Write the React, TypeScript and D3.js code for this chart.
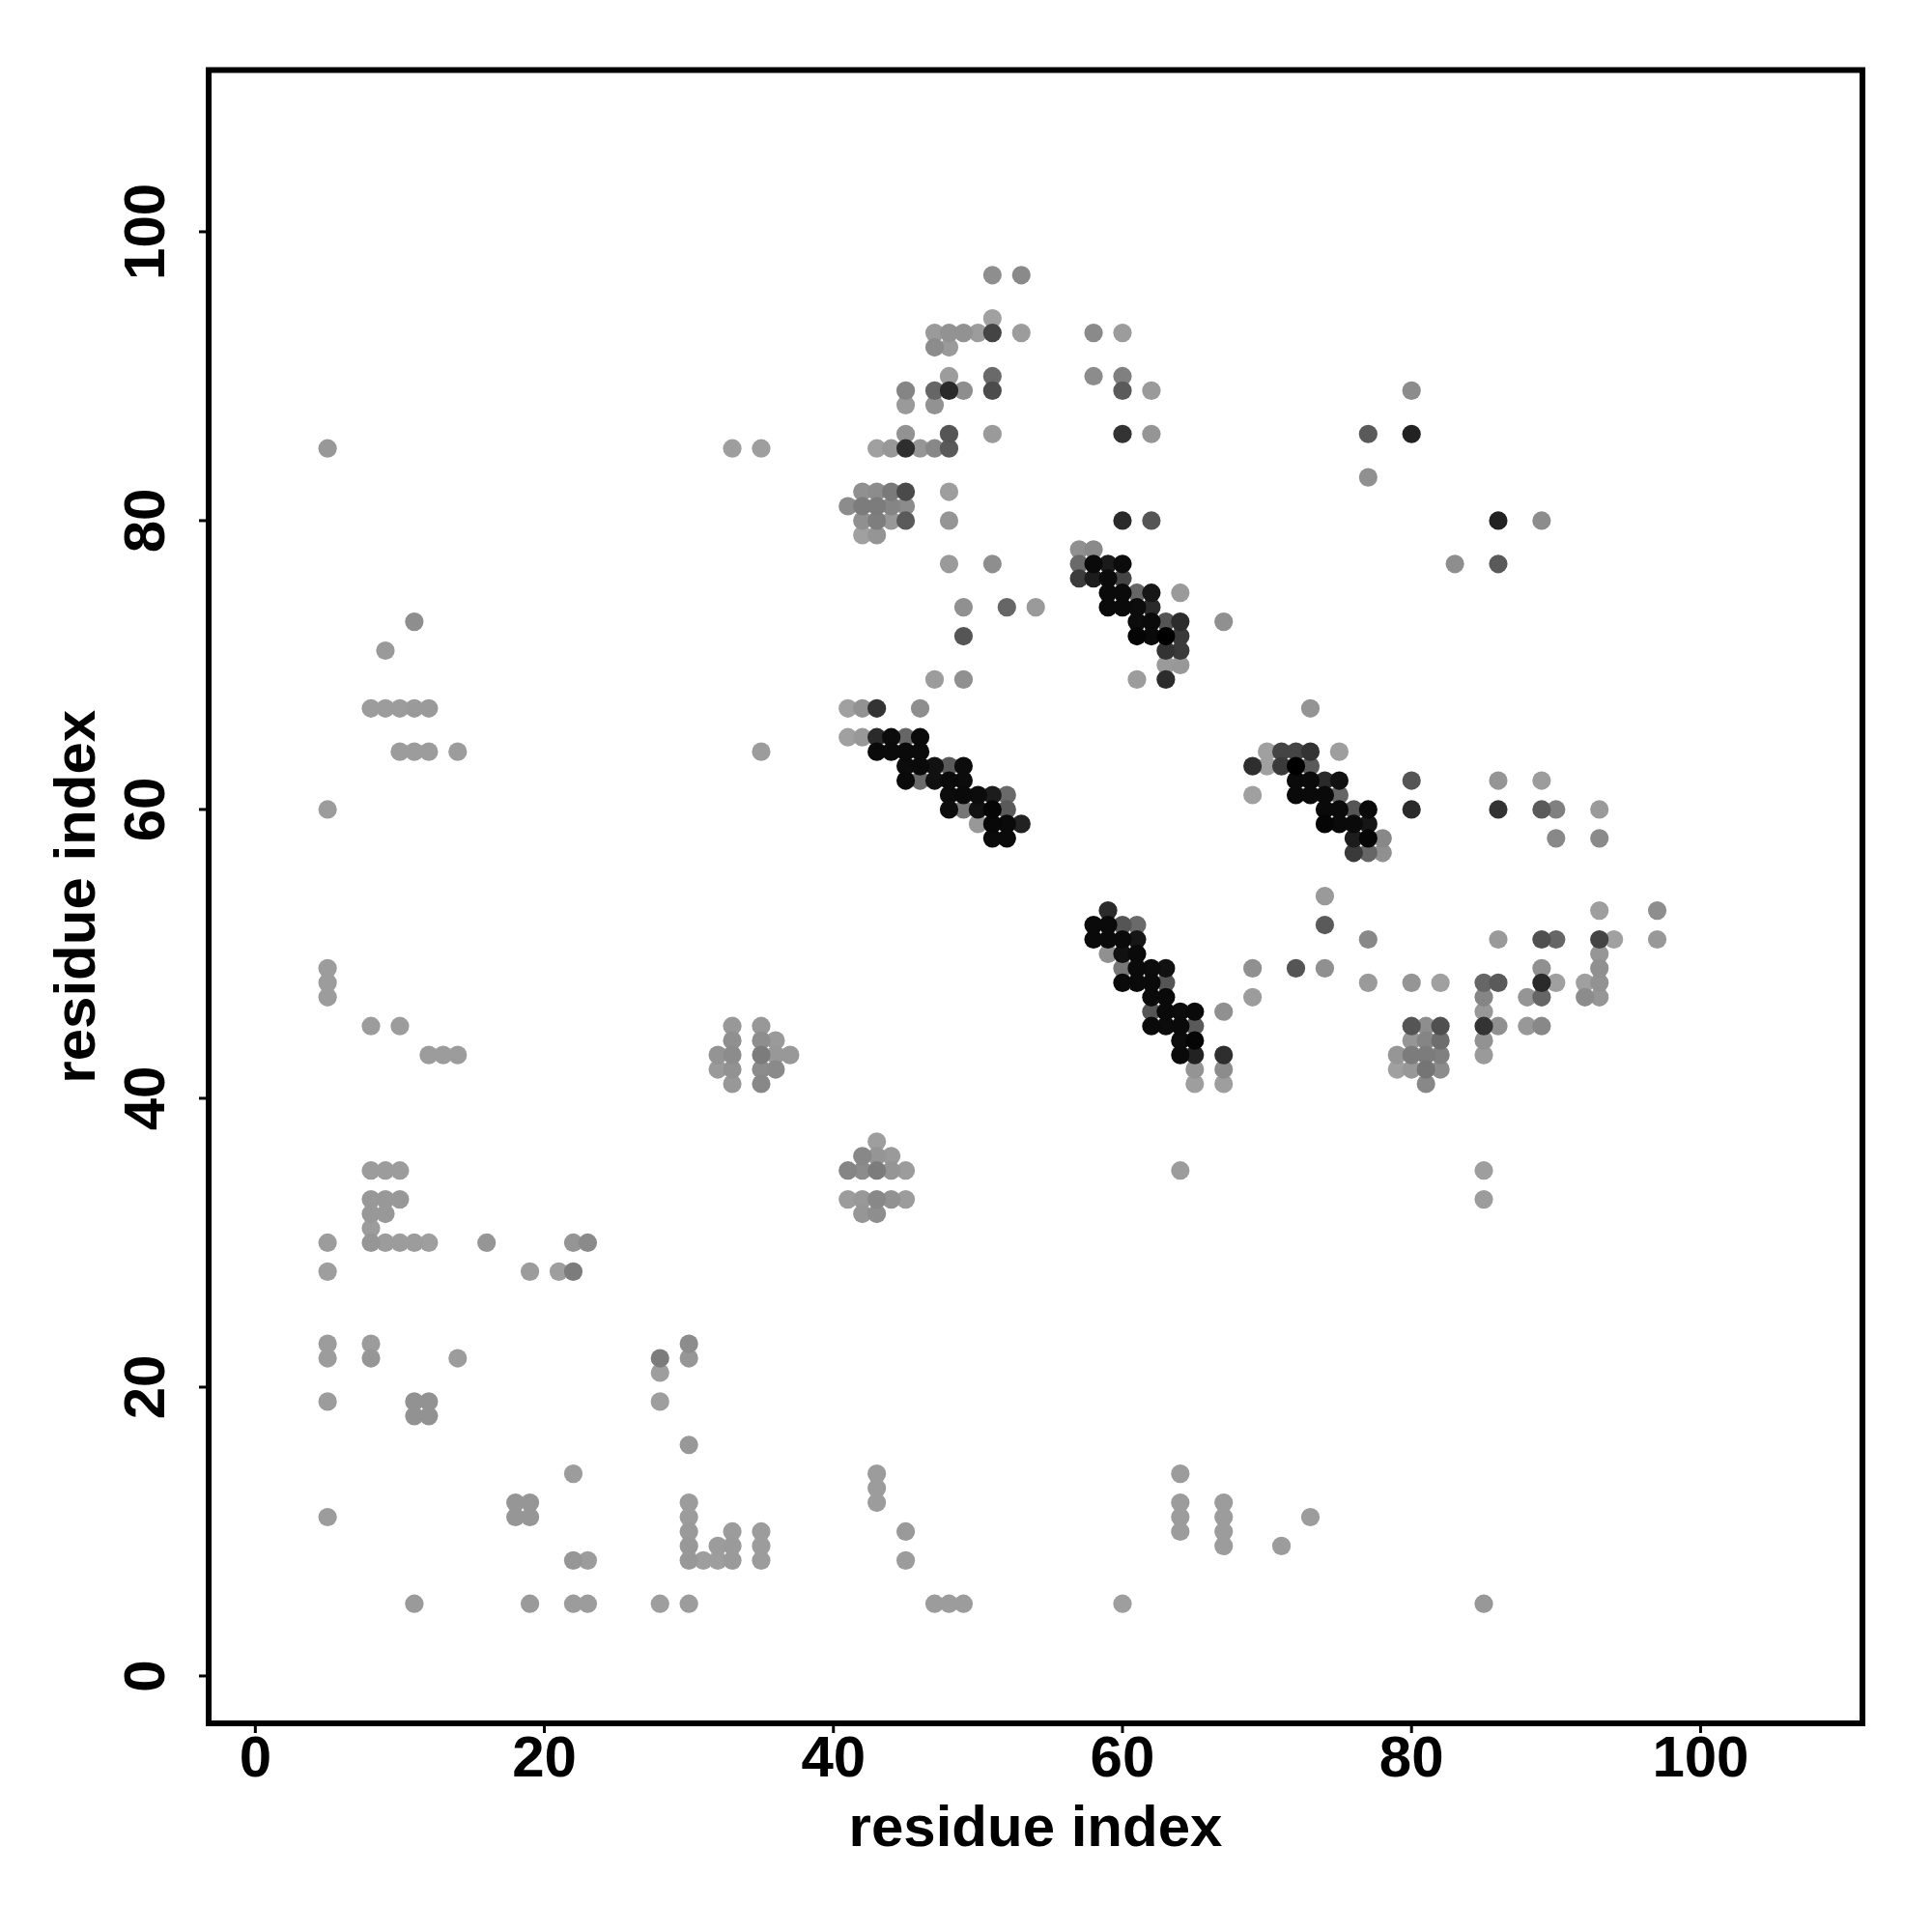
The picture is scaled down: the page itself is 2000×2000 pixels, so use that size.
import React from "react";
import * as d3 from "d3";

const xTicks = [0, 20, 40, 60, 80, 100];
const yTicks = [0, 20, 40, 60, 80, 100];
const axisTitle = "residue index";

// Each row: residue index on y, then pairs of (residue index on x, grey level).
const contactRows: number[][] = [
  [97, 51,0x8e, 53,0x8a],
  [94, 51,0xa0],
  [93, 47,0x9a, 48,0x92, 49,0x92, 50,0x9c, 51,0x44, 53,0x9c, 58,0x8a, 60,0x9c],
  [92, 47,0x8c, 48,0x9a],
  [90, 48,0x9c, 51,0x6a, 58,0x8c, 60,0x80],
  [89, 45,0x85, 47,0x66, 48,0x2a, 49,0x8e, 51,0x4c, 60,0x5a, 62,0x9a, 80,0x8c],
  [88, 45,0x9a, 47,0x92],
  [86, 45,0x92, 48,0x55, 51,0x9a, 60,0x33, 62,0x95, 77,0x5a, 80,0x22],
  [85, 5,0x98, 33,0x9e, 35,0x9e, 43,0xa0, 44,0x98, 45,0x2e, 46,0x96, 47,0x88, 48,0x5a],
  [83, 77,0x90],
  [82, 42,0x90, 43,0x8c, 44,0x7a, 45,0x4a, 48,0x9e],
  [81, 41,0x8c, 42,0x7c, 43,0x7c, 44,0x85, 45,0x8c],
  [80, 42,0x90, 43,0x7e, 44,0x98, 45,0x5a, 48,0x95, 60,0x2a, 62,0x55, 86,0x22, 89,0x8c],
  [79, 42,0xa0, 43,0x95],
  [78, 57,0x90, 58,0x8a],
  [77, 48,0x9a, 51,0x8e, 57,0x6a, 58,0x0a, 59,0x1a, 60,0x0c, 83,0x8e, 86,0x5a],
  [76, 57,0x3c, 58,0x1c, 59,0x0a, 60,0x44],
  [75, 59,0x0a, 60,0x0a, 61,0x66, 62,0x16, 64,0x9a],
  [74, 49,0x90, 52,0x66, 54,0x9a, 59,0x0a, 60,0x0a, 61,0x0c, 62,0x2a],
  [73, 11,0x8e, 61,0x0c, 62,0x0a, 63,0x55, 64,0x2c, 67,0x90],
  [72, 49,0x55, 61,0x05, 62,0x0a, 63,0x00, 64,0x3a],
  [71, 9,0x9a, 63,0x33, 64,0x3a],
  [70, 63,0x9a, 64,0x98],
  [69, 47,0x9c, 49,0x90, 61,0x9c, 63,0x2c],
  [67, 8,0x9c, 9,0x9c, 10,0x9c, 11,0x9a, 12,0x9a, 41,0xa0, 42,0x92, 43,0x33, 46,0x8e, 73,0x94],
  [65, 41,0xa0, 42,0x98, 43,0x2a, 44,0x0c, 45,0x66, 46,0x0a],
  [64, 10,0x9c, 11,0x9c, 12,0x9c, 14,0x9c, 35,0x9c, 43,0x0a, 44,0x0a, 45,0x0a, 46,0x0a, 70,0xa0, 71,0x44, 72,0x44, 73,0x33, 75,0x9e],
  [63, 45,0x0c, 46,0x0a, 47,0x11, 48,0x5a, 49,0x0c, 69,0x2e, 70,0xa0, 71,0x3a, 72,0x00, 73,0x5a],
  [62, 45,0x0a, 46,0x6a, 47,0x11, 48,0x0a, 49,0x0c, 72,0x0a, 73,0x0a, 74,0x2a, 75,0x11, 80,0x55, 86,0x95, 89,0x9c],
  [61, 48,0x0c, 49,0x0a, 50,0x0c, 51,0x1c, 52,0x6a, 69,0xa0, 72,0x0a, 73,0x0a, 74,0x0a, 75,0x66],
  [60, 5,0x9c, 48,0x0c, 49,0x77, 50,0x11, 51,0x05, 52,0x5a, 74,0x0a, 75,0x0a, 76,0x55, 77,0x0a, 80,0x2a, 86,0x33, 89,0x5a, 90,0x80, 93,0x9a],
  [59, 50,0x98, 51,0x08, 52,0x0a, 53,0x22, 74,0x05, 75,0x0a, 76,0x0a, 77,0x16],
  [58, 51,0x0a, 52,0x0a, 76,0x1c, 77,0x05, 78,0x88, 90,0x88, 93,0x8a],
  [57, 76,0x3a, 77,0x66, 78,0x90],
  [54, 74,0x9a],
  [53, 59,0x2a, 93,0x9e, 97,0x8e],
  [52, 58,0x0a, 59,0x0a, 60,0x55, 61,0x6a, 74,0x5a],
  [51, 58,0x0a, 59,0x0a, 60,0x0a, 61,0x16, 77,0x88, 86,0x9a, 89,0x50, 90,0x66, 93,0x44, 94,0xa0, 97,0x98],
  [50, 59,0x90, 60,0x11, 61,0x0a, 93,0x96],
  [49, 5,0x9c, 60,0x77, 61,0x0a, 62,0x0c, 63,0x11, 69,0x90, 72,0x55, 74,0x90, 89,0x90, 93,0x90],
  [48, 5,0x9c, 60,0x0a, 61,0x0a, 62,0x0a, 63,0x55, 77,0x9a, 80,0x95, 82,0xa0, 85,0x66, 86,0x5a, 89,0x2a, 90,0xa0, 92,0xa0, 93,0x92],
  [47, 5,0x9c, 62,0x0a, 63,0x0a, 69,0x9c, 85,0x85, 88,0x95, 89,0x66, 92,0x8c, 93,0x96],
  [46, 62,0x55, 63,0x0a, 64,0x0c, 65,0x0a, 67,0x90, 85,0x98],
  [45, 8,0x9c, 10,0x9c, 33,0x98, 35,0x98, 62,0x0a, 63,0x0c, 64,0x0a, 65,0x5a, 80,0x55, 81,0x8e, 82,0x50, 85,0x33, 86,0x90, 88,0x98, 89,0x88],
  [44, 33,0x90, 35,0x8e, 36,0x9a, 64,0x0c, 65,0x05, 80,0x96, 81,0x85, 82,0x6e, 85,0x92],
  [43, 12,0x9c, 13,0x9c, 14,0x9c, 32,0x94, 33,0x8c, 35,0x7c, 36,0x98, 37,0x98, 64,0x0a, 65,0x22, 67,0x2e, 79,0x96, 80,0x7c, 81,0x7c, 82,0x80, 85,0x9a],
  [42, 32,0x9a, 33,0x92, 35,0x8c, 36,0x8a, 65,0x94, 67,0x8c, 79,0xa0, 80,0x98, 81,0x75, 82,0x8c],
  [41, 33,0x98, 35,0x88, 65,0x9e, 67,0x9e, 81,0x88],
  [37, 43,0x9e],
  [36, 42,0x88, 43,0x95, 44,0x9a],
  [35, 8,0x9c, 9,0x9c, 10,0x9c, 41,0x85, 42,0x8c, 43,0x7c, 44,0x95, 45,0x9c, 64,0x9c, 85,0x9e],
  [33, 8,0x98, 9,0x98, 10,0x98, 41,0x9c, 42,0x98, 43,0x88, 44,0x92, 45,0x9c, 85,0x9c],
  [32, 8,0x98, 9,0x98, 42,0x96, 43,0x8e],
  [31, 8,0x9c],
  [30, 5,0x9c, 8,0x96, 9,0x9c, 10,0x9c, 11,0x9c, 12,0x9e, 16,0x96, 22,0x95, 23,0x8a],
  [28, 5,0x9e, 19,0x9c, 21,0x9e, 22,0x7c],
  [23, 5,0x9c, 8,0x9c, 30,0x8c],
  [22, 5,0x9c, 8,0x96, 14,0x9c, 28,0x7c, 30,0x96],
  [21, 28,0x9e],
  [19, 5,0x9c, 11,0x92, 12,0x92, 28,0x9e],
  [18, 11,0x92, 12,0x92],
  [16, 30,0x98],
  [14, 22,0x9c, 43,0x9c, 64,0x9c],
  [13, 43,0x9c],
  [12, 18,0x96, 19,0x96, 30,0x9c, 43,0x9c, 64,0x9c, 67,0x9c],
  [11, 5,0x9c, 18,0x96, 19,0x96, 30,0x9c, 64,0x9c, 67,0x9c, 73,0x9c],
  [10, 30,0x9a, 33,0x9c, 35,0x9c, 45,0x9a, 64,0x9c, 67,0x9c],
  [9, 30,0x98, 32,0x9c, 33,0x9a, 35,0x9c, 67,0x9c, 71,0x9c],
  [8, 22,0x96, 23,0x9c, 30,0x98, 31,0x9e, 32,0x9e, 33,0x9a, 35,0x9c, 45,0x9c],
  [5, 11,0x9a, 19,0x9a, 22,0x9c, 23,0x9c, 28,0x9e, 30,0x9c, 47,0x9c, 48,0x9c, 49,0x9c, 60,0x9e, 85,0x98],
];

const points = contactRows
  .flatMap((row) => {
    const out: { x: number; y: number; grey: number }[] = [];
    for (let i = 1; i < row.length; i += 2) out.push({ x: row[i], y: row[0], grey: row[i + 1] });
    return out;
  })
  .sort((a, b) => b.grey - a.grey);

const FONT = "'Liberation Sans', Arial, sans-serif";

export default function App() {
  const x = d3.scaleLinear().domain([-3.23, 111.2]).range([216, 1928]);
  const y = d3.scaleLinear().domain([-3.28, 111.2]).range([1784, 72.5]);
  const cx = (216 + 1928) / 2;
  const cy = (1784 + 72.5) / 2;
  return (
    <svg
      width={2000}
      height={2000}
      viewBox="0 0 2000 2000"
      style={{ position: "absolute", left: 0, top: 0, background: "#fff" }}
    >
      {points.map((p, i) => (
        <circle key={i} cx={x(p.x)} cy={y(p.y)} r={9.6} fill={d3.rgb(p.grey, p.grey, p.grey).formatHex()} />
      ))}
      <rect x={216} y={72.5} width={1712} height={1711.5} fill="none" stroke="#000" strokeWidth={6} />
      {xTicks.map((t) => (
        <g key={t}>
          <line x1={x(t)} x2={x(t)} y1={1784} y2={1794} stroke="#000" strokeWidth={3} />
          <text x={x(t)} y={1839} textAnchor="middle" fontFamily={FONT} fontWeight="bold" fontSize={60} fill="#000">
            {t}
          </text>
        </g>
      ))}
      {yTicks.map((t) => (
        <g key={t}>
          <line x1={206} x2={216} y1={y(t)} y2={y(t)} stroke="#000" strokeWidth={3} />
          <text
            transform={`translate(170,${y(t)}) rotate(-90)`}
            textAnchor="middle"
            fontFamily={FONT}
            fontWeight="bold"
            fontSize={60}
            fill="#000"
          >
            {t}
          </text>
        </g>
      ))}
      <text x={cx} y={1911} textAnchor="middle" fontFamily={FONT} fontWeight="bold" fontSize={60} fill="#000">
        {axisTitle}
      </text>
      <text
        transform={`translate(98,${cy}) rotate(-90)`}
        textAnchor="middle"
        fontFamily={FONT}
        fontWeight="bold"
        fontSize={60}
        fill="#000"
      >
        {axisTitle}
      </text>
    </svg>
  );
}
